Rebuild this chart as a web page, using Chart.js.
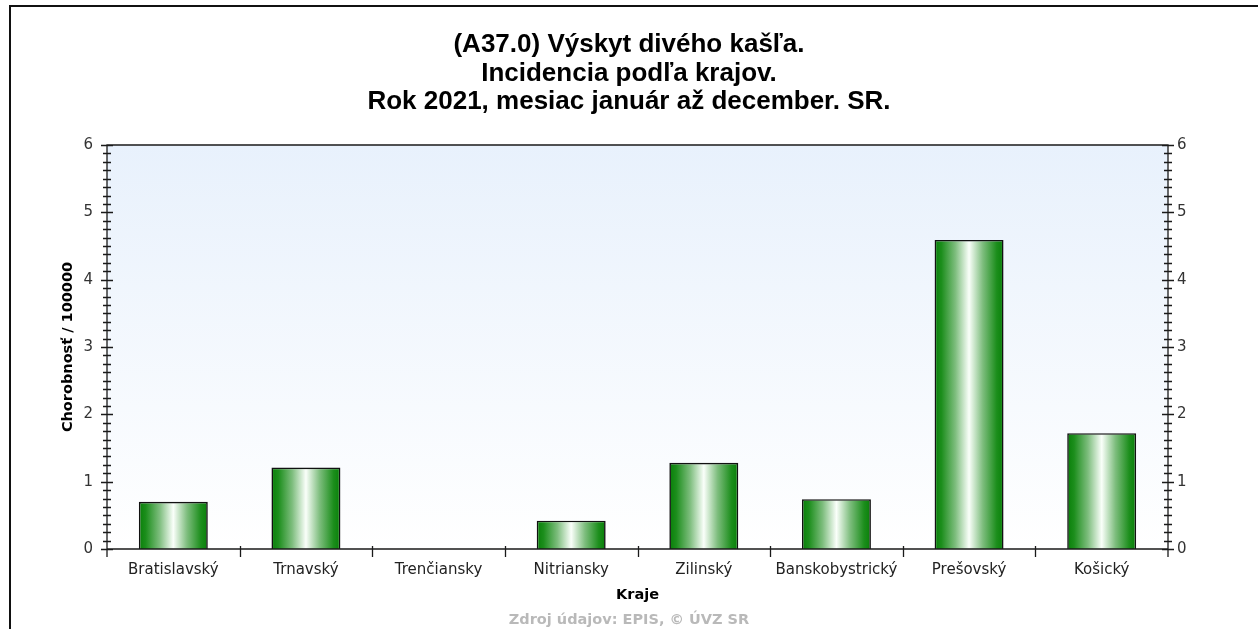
<!DOCTYPE html>
<html>
<head>
<meta charset="utf-8">
<script src="https://cdn.jsdelivr.net/npm/chart.js@4.4.0/dist/chart.umd.min.js"></script>
<style>
  html, body { margin: 0; padding: 0; background: #fff; overflow: hidden; }
  #obal { position: relative; width: 1258px; height: 629px; }
</style>
</head>
<body>
<div id="obal"><canvas id="grafKraje"></canvas></div>
<script>
// hodnoty odcitane z grafu
const kraje = ['Bratislavský', 'Trnavský', 'Trenčiansky', 'Nitriansky', 'Zilinský', 'Banskobystrický', 'Prešovský', 'Košický'];
const chorobnost = [0.70, 1.21, 0, 0.42, 1.28, 0.74, 4.59, 1.72];
const osY = { min: 0, max: 6, krok: 0.125 };
const titulok = ['(A37.0) Výskyt divého kašľa.', 'Incidencia podľa krajov.', 'Rok 2021, mesiac január až december. SR.'];
const zdroj = 'Zdroj údajov: EPIS, © ÚVZ SR';

const sirkaStlpca = 0.52;

Chart.defaults.font.family = 'DejaVu Sans';
Chart.defaults.animation = false;

// pozadie, ramcek a ciarky na osiach
const ramcek = {
  id: 'ramcek',
  beforeDraw(chart) {
    const c = chart.ctx;
    const a = chart.chartArea;
    c.save();
    c.fillStyle = '#fff';
    c.fillRect(0, 0, chart.width, chart.height);
    c.fillStyle = '#111';
    c.fillRect(9, 5, 2, chart.height);
    c.fillRect(9, 5, chart.width, 2);
    const g = c.createLinearGradient(0, a.top, 0, a.bottom);
    g.addColorStop(0, '#e8f1fc');
    g.addColorStop(1, '#ffffff');
    c.fillStyle = g;
    c.fillRect(a.left, a.top, a.right - a.left, a.bottom - a.top);
    c.restore();
  },
  afterDatasetsDraw(chart) {
    const c = chart.ctx;
    const a = chart.chartArea;
    c.save();
    c.strokeStyle = '#1a1a1a';
    c.lineWidth = 1.3;
    c.beginPath();
    c.rect(a.left, a.top, a.right - a.left, a.bottom - a.top);
    // osi pokracuju pod nulu
    c.moveTo(a.left, a.bottom); c.lineTo(a.left, a.bottom + 8);
    c.moveTo(a.right, a.bottom); c.lineTo(a.right, a.bottom + 8);
    ['y', 'y2'].forEach(id => {
      const s = chart.scales[id];
      const x = id === 'y' ? a.left : a.right;
      s.ticks.forEach(t => {
        const py = Math.round(s.getPixelForValue(t.value)) + 0.5;
        const d = Number.isInteger(t.value) ? 6 : 4;
        c.moveTo(x - d, py); c.lineTo(x + d, py);
      });
    });
    const sx = chart.scales.x;
    for (let i = 1; i < kraje.length; i++) {
      const px = Math.round((sx.getPixelForValue(i - 1) + sx.getPixelForValue(i)) / 2) + 0.5;
      c.moveTo(px, a.bottom - 3); c.lineTo(px, a.bottom + 8);
    }
    c.stroke();
    c.restore();
  }
};

function vyplnStlpca(ctx) {
  if (ctx.type !== 'data') return '#1a8a1a';
  const ch = ctx.chart;
  const sx = ch.scales.x;
  if (!sx || !ch.chartArea) return '#1a8a1a';
  const cx = sx.getPixelForValue(ctx.dataIndex);
  const w = sx.width / kraje.length * sirkaStlpca;
  const g = ch.ctx.createLinearGradient(cx - w / 2, 0, cx + w / 2, 0);
  g.addColorStop(0, '#087f08');
  g.addColorStop(0.1, '#1c8e1c');
  g.addColorStop(0.3, '#7dbd7d');
  g.addColorStop(0.5, '#fafffa');
  g.addColorStop(0.7, '#7dbd7d');
  g.addColorStop(0.9, '#1c8e1c');
  g.addColorStop(1, '#087f08');
  return g;
}

const popisOsi = { family: 'DejaVu Sans', size: 15 };
const nadpisOsi = { family: 'DejaVu Sans', size: 14.5, weight: 'bold' };

new Chart(document.getElementById('grafKraje'), {
  type: 'bar',
  data: {
    labels: kraje,
    datasets: [{
      data: chorobnost,
      backgroundColor: vyplnStlpca,
      borderColor: '#111',
      borderWidth: 1.6,
      barPercentage: sirkaStlpca,
      categoryPercentage: 1
    }]
  },
  options: {
    responsive: true,
    maintainAspectRatio: false,
    layout: { padding: 0 },
    plugins: {
      legend: { display: false },
      tooltip: { enabled: false },
      title: {
        display: true,
        text: titulok,
        color: '#000',
        font: { family: 'Liberation Sans', size: 26, weight: 'bold', lineHeight: 1.1 },
        padding: { top: 30.5, bottom: 28.7 }
      },
      subtitle: {
        display: true,
        position: 'bottom',
        text: zdroj,
        color: '#b9b9b9',
        font: nadpisOsi,
        padding: { top: 0, bottom: 0 }
      }
    },
    scales: {
      x: {
        type: 'category',
        offset: true,
        grid: { display: false, drawTicks: false },
        border: { display: false },
        ticks: { color: '#222', font: popisOsi, padding: 12, maxRotation: 0, autoSkip: false },
        title: {
          display: true,
          text: 'Kraje',
          color: '#000',
          font: nadpisOsi,
          padding: { top: 0, bottom: 7.9 }
        },
        afterFit(s) { s.height = 62.6; }
      },
      y: {
        position: 'left',
        min: osY.min,
        max: osY.max,
        grid: { display: false, drawTicks: false },
        border: { display: false },
        ticks: {
          stepSize: osY.krok,
          autoSkip: false,
          padding: 14,
          color: '#333',
          font: popisOsi,
          callback: v => Number.isInteger(v) ? v : ''
        },
        title: {
          display: true,
          text: 'Chorobnosť / 100000',
          color: '#000',
          font: nadpisOsi,
          padding: { top: 59.3 }
        },
        afterFit(s) { s.width = 107; }
      },
      y2: {
        position: 'right',
        min: osY.min,
        max: osY.max,
        grid: { display: false, drawTicks: false },
        border: { display: false },
        ticks: {
          stepSize: osY.krok,
          autoSkip: false,
          padding: 9,
          color: '#333',
          font: popisOsi,
          callback: v => Number.isInteger(v) ? v : ''
        },
        afterFit(s) { s.width = 90; }
      }
    }
  },
  plugins: [ramcek]
});
</script>
</body>
</html>
